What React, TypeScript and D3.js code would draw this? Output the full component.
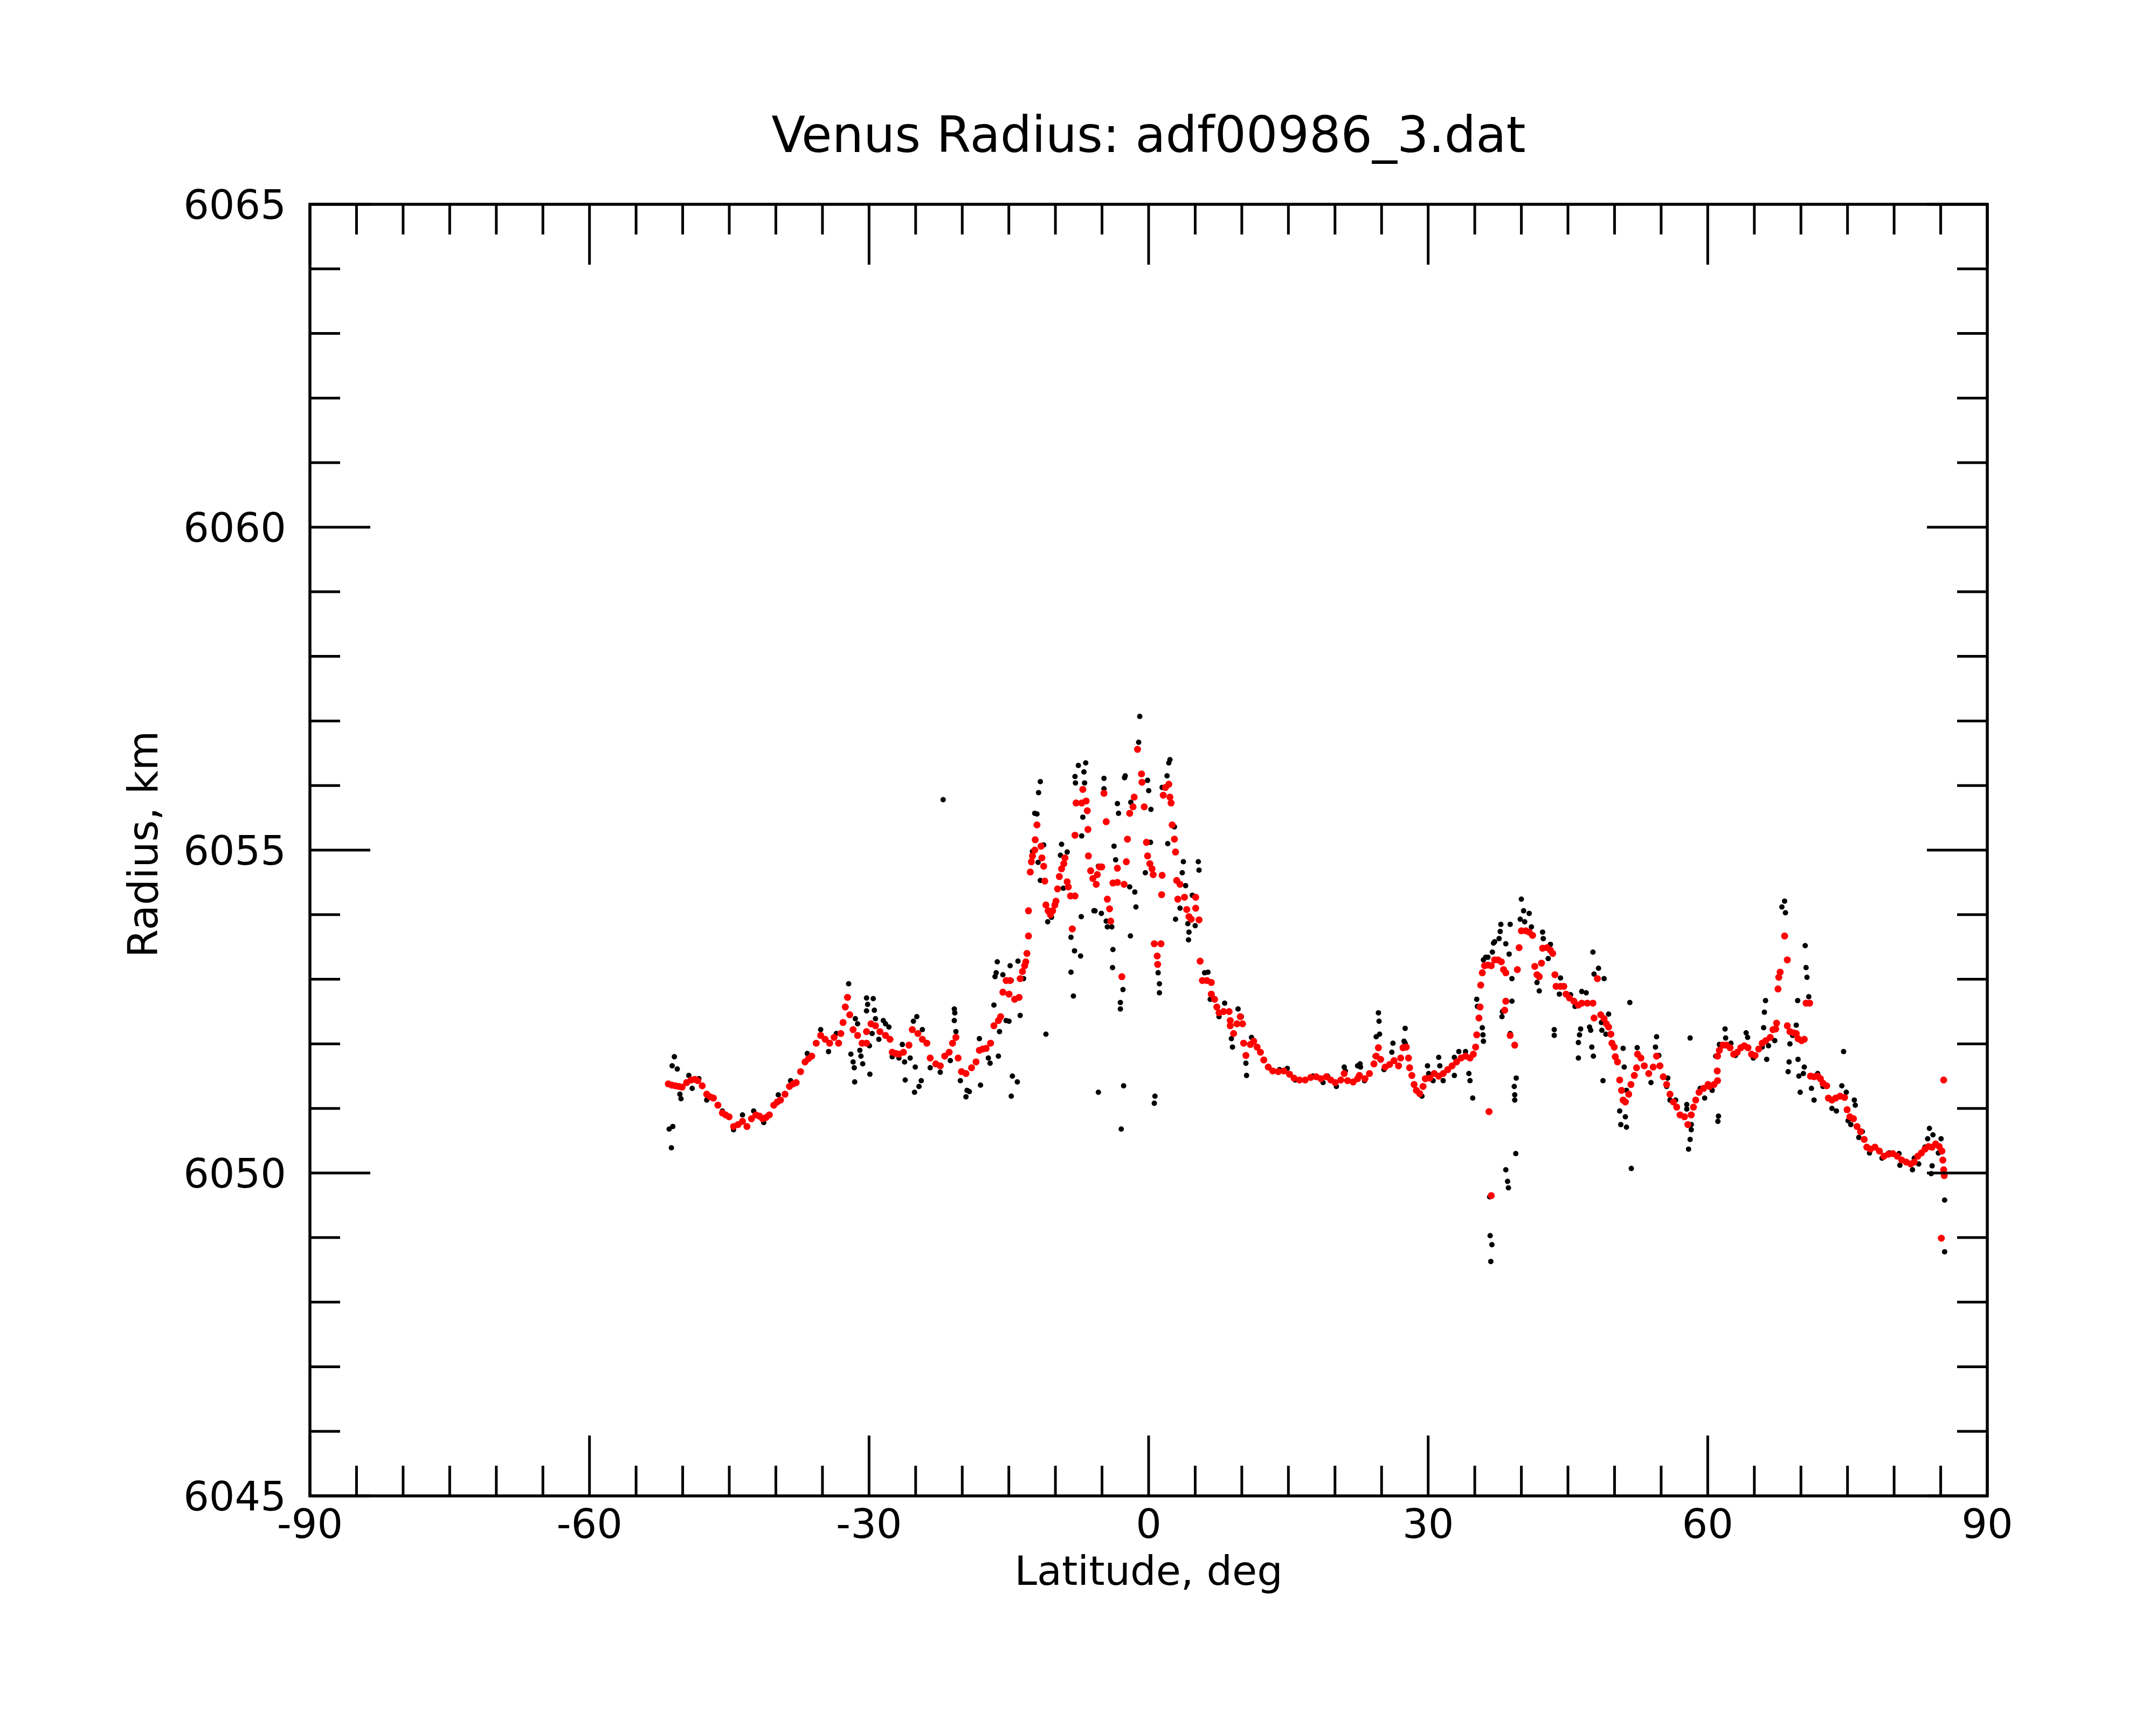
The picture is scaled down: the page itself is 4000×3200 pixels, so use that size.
import React from "react";
import * as d3 from "d3";

const W = 4000;
const H = 3200;
const TITLE = "Venus Radius: adf00986_3.dat";
const X_LABEL = "Latitude, deg";
const Y_LABEL = "Radius, km";

const xDomain: [number, number] = [-90, 90];
const yDomain: [number, number] = [6045, 6065];
const xMajorTicks = [-90, -60, -30, 0, 30, 60, 90];
const xMinorTicks = [-85, -80, -75, -70, -65, -55, -50, -45, -40, -35, -25, -20, -15, -10, -5, 5, 10, 15, 20, 25, 35, 40, 45, 50, 55, 65, 70, 75, 80, 85];
const yMajorTicks = [6045, 6050, 6055, 6060, 6065];
const yMinorTicks = [6046, 6047, 6048, 6049, 6051, 6052, 6053, 6054, 6056, 6057, 6058, 6059, 6061, 6062, 6063, 6064];

type P = [number, number];

// raw radius samples (black), south part
const blackSouth: P[] = [
  [-51.45, 6050.68], [-51.06, 6050.72], [-51.21, 6050.39], [-50.89, 6051.80], [-51.13, 6051.66], [-50.58, 6051.61],
  [-50.30, 6051.22], [-50.18, 6051.15], [-49.34, 6051.51], [-48.98, 6051.31], [-48.26, 6051.46], [-47.42, 6051.13],
  [-45.74, 6050.96], [-44.54, 6050.67], [-43.58, 6050.90], [-42.38, 6050.96], [-41.30, 6050.78], [-39.74, 6051.21],
  [-38.42, 6051.43], [-36.63, 6051.85], [-35.19, 6052.22], [-34.35, 6051.88], [-33.51, 6052.16], [-32.19, 6052.93],
  [-31.95, 6051.84], [-31.71, 6051.72], [-31.59, 6051.63], [-31.54, 6051.41], [-31.47, 6052.39], [-31.23, 6052.31],
  [-30.99, 6051.90], [-30.87, 6051.81], [-30.68, 6051.69], [-30.27, 6052.71], [-30.15, 6052.61], [-30.27, 6052.51],
  [-29.55, 6052.70], [-29.43, 6052.52], [-29.96, 6051.97], [-29.91, 6051.53], [-29.67, 6052.16], [-29.31, 6052.39],
  [-28.95, 6052.07], [-28.47, 6052.36], [-28.23, 6052.31], [-27.87, 6052.26], [-27.51, 6051.80], [-26.79, 6051.78],
  [-26.43, 6051.99], [-26.19, 6051.72], [-26.12, 6051.44], [-25.59, 6051.78], [-25.12, 6051.25], [-25.04, 6051.64],
  [-25.24, 6052.35], [-24.88, 6052.42], [-24.64, 6051.34], [-24.40, 6051.43], [-24.28, 6052.22], [-23.44, 6051.63],
  [-22.36, 6051.56], [-21.28, 6051.74], [-20.85, 6052.54], [-20.80, 6052.48], [-20.85, 6052.36], [-20.68, 6052.19],
  [-20.20, 6051.43], [-19.48, 6051.28], [-19.60, 6051.18], [-19.24, 6051.26], [-18.16, 6052.08], [-18.04, 6051.36],
  [-17.20, 6051.78], [-17.01, 6051.70], [-16.60, 6052.60], [-16.36, 6053.10], [-16.24, 6053.27], [-16.48, 6053.04],
  [-16.12, 6051.81], [-16.00, 6052.19], [-15.64, 6053.07], [-15.29, 6052.36], [-22.05, 6055.78],
];

// raw radius samples (black), equatorial part
const blackEquator: P[] = [
  [-14.86, 6053.21], [-14.02, 6053.28], [-14.74, 6052.98], [-14.98, 6052.35], [-13.78, 6052.44], [-14.62, 6051.50],
  [-14.09, 6051.41], [-14.74, 6051.19], [-13.42, 6053.01], [-12.22, 6055.57], [-11.98, 6055.56], [-11.81, 6055.89],
  [-11.62, 6056.06], [-12.46, 6054.98], [-11.86, 6054.81], [-11.62, 6054.53], [-11.26, 6055.08], [-11.02, 6052.15],
  [-10.83, 6053.89], [-10.42, 6053.96], [-9.34, 6055.09], [-9.46, 6054.92], [-8.74, 6054.97], [-9.15, 6054.41],
  [-8.33, 6053.65], [-8.33, 6053.11], [-8.07, 6052.74], [-7.95, 6053.44], [-7.30, 6053.36], [-7.90, 6056.14],
  [-7.85, 6056.04], [-7.54, 6056.31], [-6.94, 6056.21], [-6.75, 6056.35], [-6.87, 6056.04], [-7.06, 6055.51],
  [-7.18, 6055.22], [-7.23, 6053.97], [-5.87, 6054.06], [-5.75, 6054.06], [-5.07, 6054.02], [-5.39, 6054.75],
  [-5.39, 6051.25], [-4.79, 6056.11], [-4.79, 6055.95], [-4.55, 6053.90], [-4.43, 6053.81], [-3.95, 6053.81],
  [-3.83, 6053.46], [-3.87, 6053.18], [-3.71, 6055.06], [-3.54, 6054.85], [-3.35, 6055.72], [-3.23, 6055.57],
  [-3.03, 6052.64], [-3.03, 6052.54], [-2.75, 6052.84], [-2.68, 6051.35], [-2.94, 6050.68], [-2.03, 6054.43],
  [-1.95, 6053.67], [-2.51, 6056.15], [-2.58, 6056.12], [-1.91, 6055.74], [-1.48, 6054.35], [-1.36, 6054.12],
  [-1.07, 6056.67], [-0.95, 6057.07], [-0.11, 6056.08], [0.01, 6055.92], [-0.28, 6055.12], [-0.35, 6054.65],
  [0.20, 6055.12], [0.25, 6055.63], [0.68, 6051.19], [0.61, 6051.08], [1.02, 6053.10], [1.16, 6052.93],
  [1.16, 6052.79], [1.40, 6054.61], [1.45, 6055.97], [1.98, 6056.15], [2.17, 6056.35], [2.29, 6056.40],
  [2.41, 6055.73], [2.77, 6055.36], [2.05, 6055.10], [2.89, 6053.93], [3.37, 6054.10], [3.61, 6054.65],
  [3.73, 6054.82], [3.97, 6054.45], [4.21, 6053.86], [4.33, 6053.73], [4.28, 6053.61], [4.69, 6054.30],
  [5.00, 6053.83], [5.33, 6054.82], [5.41, 6054.69], [6.01, 6053.10], [6.37, 6053.11], [6.61, 6052.69],
  [6.85, 6052.72], [7.56, 6052.42], [8.16, 6052.63], [8.88, 6052.08], [9.00, 6051.95], [9.60, 6052.54],
  [9.96, 6052.42], [10.44, 6051.70], [10.51, 6051.51], [11.04, 6052.10], [14.04, 6051.60], [14.88, 6051.62],
  [15.72, 6051.44], [17.64, 6051.50], [18.72, 6051.40], [19.20, 6051.50], [20.15, 6051.34], [20.99, 6051.64],
  [21.11, 6051.58], [22.43, 6051.66],
];

// raw radius samples (black), northern mid latitudes
const blackNorth: P[] = [
  [22.69, 6051.69], [22.74, 6051.64], [23.17, 6051.43], [24.66, 6052.48], [24.73, 6052.35], [24.78, 6052.15],
  [24.42, 6052.11], [24.30, 6051.81], [25.26, 6051.60], [26.10, 6051.87], [26.22, 6052.01], [27.53, 6052.24],
  [27.41, 6052.04], [27.53, 6052.01], [29.33, 6051.19], [29.93, 6051.66], [30.05, 6051.54], [30.53, 6051.43],
  [31.13, 6051.79], [31.25, 6051.66], [31.61, 6051.43], [32.81, 6051.79], [32.81, 6051.51], [33.29, 6051.88],
  [34.01, 6051.88], [34.37, 6051.54], [34.49, 6051.43], [34.78, 6051.16], [35.21, 6052.69], [35.28, 6052.58],
  [35.81, 6052.25], [35.88, 6052.14], [35.93, 6052.04], [35.93, 6053.30], [36.17, 6053.34], [36.41, 6053.34],
  [36.89, 6053.42], [37.01, 6053.56], [37.13, 6053.58], [37.61, 6053.63], [37.73, 6053.74], [37.80, 6053.85],
  [38.33, 6053.55], [38.80, 6053.85], [38.69, 6053.39], [37.97, 6052.50], [37.92, 6052.42], [38.99, 6053.01],
  [38.99, 6052.66], [38.80, 6052.16], [36.65, 6049.03], [36.84, 6048.89], [36.72, 6048.63], [36.60, 6049.63],
  [38.33, 6050.05], [38.52, 6049.87], [38.61, 6049.77], [39.40, 6050.30], [39.45, 6051.47], [39.24, 6051.34],
  [39.29, 6051.21], [39.29, 6051.13], [40.00, 6054.24], [40.24, 6054.06], [40.84, 6054.02], [39.88, 6053.93],
  [40.36, 6053.89], [41.08, 6053.81], [41.68, 6052.95], [41.92, 6052.82], [42.28, 6053.73], [42.35, 6053.63],
  [42.88, 6053.32], [43.12, 6053.54], [43.53, 6052.22], [43.53, 6052.13], [44.20, 6053.02], [44.08, 6052.77],
  [45.28, 6052.76], [45.76, 6052.58], [46.48, 6052.81], [46.96, 6052.79], [46.36, 6052.23], [46.24, 6052.14],
  [46.12, 6052.02], [46.12, 6051.78], [47.32, 6052.26], [47.44, 6052.21], [47.56, 6051.95], [47.73, 6051.81],
  [47.68, 6053.42], [47.80, 6053.08], [48.28, 6053.17], [48.88, 6053.01], [48.76, 6051.43], [48.59, 6052.33],
  [49.36, 6052.46], [48.64, 6052.21], [49.07, 6052.15], [51.64, 6052.64], [50.92, 6051.93], [51.04, 6051.64],
  [50.55, 6050.96], [50.67, 6050.75], [51.16, 6050.87], [51.28, 6050.71], [51.28, 6051.28], [51.80, 6050.07],
  [52.43, 6051.94], [53.91, 6051.40], [54.51, 6052.11], [54.39, 6051.95], [54.75, 6051.82], [55.71, 6051.47],
  [55.59, 6051.34], [55.95, 6051.13], [56.55, 6051.13], [57.75, 6051.06], [57.75, 6050.99], [58.23, 6050.75],
  [58.23, 6050.67], [58.11, 6050.52], [57.94, 6050.37], [58.11, 6052.09], [59.19, 6051.31], [59.67, 6051.16],
];

// raw radius samples (black), high northern latitudes
const blackPolar: P[] = [
  [60.48, 6051.28], [61.15, 6050.88], [61.09, 6050.80], [60.86, 6051.81], [61.25, 6051.99], [61.86, 6052.23],
  [61.92, 6052.09], [62.49, 6052.01], [62.97, 6051.82], [64.12, 6052.17], [64.28, 6052.10], [64.89, 6051.78],
  [65.85, 6051.95], [66.00, 6052.25], [66.08, 6052.49], [66.20, 6052.67], [66.33, 6051.76], [66.52, 6051.97],
  [67.19, 6052.05], [67.96, 6054.12], [68.25, 6054.21], [68.34, 6054.03], [68.82, 6052.00], [68.73, 6051.72],
  [68.63, 6051.57], [69.11, 6052.13], [69.50, 6052.29], [69.65, 6052.67], [69.69, 6051.76], [69.78, 6051.50],
  [69.92, 6051.25], [70.26, 6051.54], [70.36, 6051.64], [70.46, 6053.52], [70.55, 6053.18], [70.65, 6053.03],
  [70.84, 6052.73], [71.13, 6051.31], [71.41, 6051.13], [71.80, 6051.54], [72.37, 6051.34], [73.33, 6051.00],
  [73.81, 6050.96], [74.39, 6051.35], [74.58, 6051.88], [74.87, 6051.25], [75.06, 6050.81], [75.35, 6050.75],
  [75.73, 6051.13], [75.83, 6051.05], [76.21, 6050.55], [76.59, 6050.64], [77.36, 6050.31], [78.70, 6050.23],
  [79.47, 6050.31], [80.53, 6050.30], [80.62, 6050.12], [81.97, 6050.05], [82.16, 6050.23], [82.64, 6050.14],
  [83.31, 6050.40], [83.60, 6050.53], [83.79, 6050.69], [84.17, 6050.59], [84.08, 6050.11], [83.98, 6049.99],
  [85.04, 6050.53], [84.75, 6050.31], [85.42, 6049.58], [85.42, 6048.78],
];

// smoothed radius (red)
const redSouth: P[] = [
  [-51.54, 6051.38], [-51.15, 6051.36], [-50.77, 6051.35], [-50.40, 6051.34], [-50.06, 6051.33], [-49.58, 6051.40],
  [-49.10, 6051.44], [-48.70, 6051.45], [-48.38, 6051.43], [-47.90, 6051.35], [-47.42, 6051.22], [-47.05, 6051.18],
  [-46.70, 6051.16], [-46.22, 6051.05], [-45.74, 6050.93], [-45.40, 6050.90], [-45.02, 6050.87], [-44.54, 6050.72],
  [-44.06, 6050.75], [-43.58, 6050.80], [-43.10, 6050.72], [-42.62, 6050.84], [-42.14, 6050.90], [-41.75, 6050.88],
  [-41.42, 6050.84], [-41.05, 6050.86], [-40.70, 6050.90], [-40.22, 6051.05], [-39.85, 6051.10], [-39.50, 6051.13],
  [-39.02, 6051.22], [-38.54, 6051.34], [-38.15, 6051.38], [-37.82, 6051.40], [-37.35, 6051.57], [-36.87, 6051.72],
  [-36.50, 6051.77], [-36.15, 6051.81], [-35.67, 6052.01], [-35.19, 6052.13], [-34.71, 6052.07], [-34.23, 6052.01],
  [-33.75, 6052.10], [-33.27, 6052.01], [-33.03, 6052.16], [-32.79, 6052.33], [-32.55, 6052.57], [-32.31, 6052.72],
  [-32.07, 6052.45], [-31.71, 6052.22], [-31.23, 6052.13], [-30.75, 6052.01], [-30.27, 6052.01], [-30.27, 6052.19],
  [-29.79, 6052.31], [-29.31, 6052.28], [-28.83, 6052.19], [-28.23, 6052.13], [-27.75, 6052.07], [-27.51, 6051.87],
  [-27.15, 6051.85], [-26.79, 6051.84], [-26.31, 6051.87], [-25.72, 6051.98], [-25.36, 6052.22], [-24.76, 6052.16],
  [-24.28, 6052.07], [-23.80, 6052.01], [-23.44, 6051.78], [-22.84, 6051.69], [-22.36, 6051.66], [-21.88, 6051.81],
  [-21.40, 6051.87], [-21.04, 6052.01], [-20.68, 6052.10], [-20.44, 6051.78], [-20.08, 6051.57], [-19.60, 6051.54],
  [-19.00, 6051.63], [-18.52, 6051.72], [-18.16, 6051.90], [-17.80, 6051.92], [-17.44, 6051.93], [-16.96, 6052.01],
  [-16.60, 6052.28], [-16.12, 6052.36], [-15.88, 6052.42], [-15.64, 6052.80], [-15.29, 6052.98],
];

const redEquator: P[] = [
  [-14.98, 6052.77], [-14.38, 6052.69], [-13.90, 6052.72], [-14.86, 6052.98], [-13.78, 6053.01], [-13.54, 6053.12],
  [-13.30, 6053.21], [-13.18, 6053.27], [-13.06, 6053.40], [-12.89, 6053.67], [-12.89, 6054.06], [-12.70, 6054.66],
  [-12.58, 6054.82], [-12.46, 6054.91], [-12.22, 6055.00], [-12.17, 6055.16], [-11.98, 6055.39], [-11.55, 6055.06],
  [-11.45, 6054.88], [-11.26, 6054.75], [-11.14, 6054.52], [-11.02, 6054.15], [-10.78, 6054.06], [-10.54, 6054.00],
  [-10.30, 6054.06], [-10.06, 6054.15], [-9.94, 6054.21], [-9.77, 6054.40], [-9.58, 6054.59], [-9.34, 6054.71],
  [-9.10, 6054.79], [-8.98, 6054.88], [-8.74, 6054.51], [-8.62, 6054.43], [-8.38, 6054.29], [-7.90, 6054.29],
  [-8.19, 6053.78], [-7.90, 6055.23], [-7.78, 6055.73], [-7.18, 6055.73], [-6.70, 6055.76], [-7.06, 6055.94],
  [-6.58, 6055.61], [-6.51, 6055.32], [-6.46, 6054.91], [-6.22, 6054.68], [-5.98, 6054.56], [-5.62, 6054.47],
  [-5.50, 6054.62], [-5.26, 6054.74], [-5.03, 6054.74], [-4.79, 6055.88], [-4.55, 6055.44], [-4.43, 6054.24],
  [-4.19, 6054.09], [-4.07, 6053.90], [-3.83, 6054.49], [-3.35, 6054.50], [-3.35, 6054.72], [-2.87, 6053.04],
  [-2.63, 6054.47], [-2.39, 6054.82], [-2.27, 6055.17], [-2.03, 6055.57], [-1.67, 6055.67], [-1.55, 6055.82],
  [-1.19, 6056.56], [-0.76, 6056.18], [-0.71, 6056.05], [-0.47, 6055.67], [-0.23, 6055.12], [-0.11, 6054.91],
  [0.13, 6054.79], [0.37, 6054.71], [0.49, 6054.62], [0.61, 6053.55], [0.92, 6053.36], [0.97, 6053.23],
  [1.33, 6053.55], [1.40, 6054.31], [1.45, 6054.61], [1.57, 6055.85], [1.81, 6055.97], [2.17, 6056.02],
  [2.29, 6055.82], [2.41, 6055.73], [2.53, 6055.39], [2.77, 6055.17], [2.89, 6054.97], [3.01, 6054.53],
  [3.37, 6054.47], [3.13, 6054.24], [3.85, 6054.27], [4.09, 6054.08], [4.33, 6053.97], [4.57, 6053.93],
  [5.05, 6054.27], [5.05, 6054.10], [5.41, 6053.92], [5.53, 6053.28], [5.77, 6052.98], [6.25, 6052.98],
  [6.73, 6052.95], [6.73, 6052.77], [7.08, 6052.69], [7.32, 6052.57], [7.56, 6052.48], [8.04, 6052.50],
  [8.64, 6052.50], [8.76, 6052.36], [8.76, 6052.28], [9.12, 6052.16], [9.48, 6052.31], [9.84, 6052.42],
  [10.08, 6052.31], [10.20, 6052.01], [10.44, 6051.82], [10.92, 6051.99], [11.28, 6052.04], [11.64, 6051.95],
  [12.00, 6051.87], [12.36, 6051.75], [12.84, 6051.64], [13.32, 6051.58], [13.92, 6051.57], [14.52, 6051.58],
  [15.12, 6051.53], [15.60, 6051.47], [16.20, 6051.44], [16.80, 6051.44], [17.40, 6051.48], [17.99, 6051.49],
  [18.48, 6051.46], [19.07, 6051.49], [19.55, 6051.44], [20.03, 6051.40], [20.63, 6051.44], [20.99, 6051.54],
  [21.35, 6051.43], [21.95, 6051.41], [22.43, 6051.46],
];

const redNorth: P[] = [
  [22.62, 6051.51], [23.22, 6051.46], [23.70, 6051.54], [24.18, 6051.69], [24.42, 6051.81], [24.66, 6051.94],
  [24.90, 6051.76], [25.38, 6051.64], [25.86, 6051.68], [26.34, 6051.74], [26.82, 6051.66], [27.05, 6051.78],
  [27.30, 6051.94], [27.65, 6051.95], [27.89, 6051.78], [28.01, 6051.63], [28.25, 6051.51], [28.49, 6051.37],
  [28.73, 6051.28], [29.09, 6051.23], [29.45, 6051.34], [29.69, 6051.46], [30.17, 6051.47], [30.65, 6051.54],
  [31.13, 6051.50], [31.61, 6051.54], [32.09, 6051.60], [32.57, 6051.66], [33.05, 6051.72], [33.53, 6051.78],
  [34.01, 6051.81], [34.49, 6051.78], [34.85, 6051.84], [35.09, 6051.95], [35.21, 6052.14], [35.45, 6052.40],
  [35.57, 6052.57], [35.64, 6052.91], [35.81, 6053.10], [36.05, 6053.21], [36.41, 6053.22], [36.77, 6053.21],
  [37.13, 6053.30], [37.49, 6053.30], [37.85, 6053.27], [38.09, 6053.15], [38.33, 6053.10], [36.53, 6050.95],
  [36.77, 6049.65], [38.33, 6052.66], [38.21, 6052.52], [38.80, 6052.13], [39.29, 6051.98], [39.57, 6053.15],
  [39.76, 6053.49], [40.00, 6053.75], [40.48, 6053.75], [40.84, 6053.73], [41.20, 6053.68], [41.44, 6053.20],
  [41.68, 6053.07], [41.92, 6053.04], [42.16, 6053.25], [42.28, 6053.48], [42.76, 6053.49], [43.12, 6053.45],
  [43.36, 6053.40], [43.60, 6053.07], [43.72, 6052.89], [44.20, 6052.89], [44.56, 6052.89], [44.80, 6052.77],
  [45.16, 6052.71], [45.64, 6052.66], [46.12, 6052.60], [46.48, 6052.63], [47.08, 6052.63], [47.68, 6052.63],
  [47.80, 6052.40], [48.16, 6053.01], [48.52, 6052.45], [48.88, 6052.39], [49.12, 6052.31], [49.36, 6052.26],
  [49.60, 6052.15], [49.72, 6052.01], [49.96, 6051.95], [50.08, 6051.80], [50.32, 6051.72], [50.55, 6051.44],
  [50.75, 6051.28], [50.92, 6051.13], [51.16, 6051.10], [51.52, 6051.22], [51.76, 6051.37], [52.12, 6051.51],
  [52.36, 6051.63], [52.47, 6051.84], [52.83, 6051.78], [53.19, 6051.66], [53.67, 6051.54], [54.15, 6051.64],
  [54.51, 6051.81], [54.87, 6051.66], [55.23, 6051.49], [55.59, 6051.37], [55.95, 6051.22], [56.31, 6051.10],
  [56.67, 6051.02], [57.03, 6050.90], [57.51, 6050.87], [57.87, 6050.75], [58.23, 6050.90], [58.47, 6051.02],
  [58.71, 6051.13], [59.07, 6051.25], [59.55, 6051.31], [60.03, 6051.37],
];

const redPolar: P[] = [
  [60.19, 6051.34], [60.67, 6051.37], [61.05, 6051.43], [61.02, 6051.58], [61.05, 6051.81], [61.25, 6051.90],
  [61.63, 6051.98], [62.01, 6051.98], [62.40, 6051.94], [62.78, 6051.84], [63.17, 6051.87], [63.55, 6051.94],
  [63.93, 6051.97], [64.32, 6051.94], [64.70, 6051.84], [65.08, 6051.82], [65.47, 6051.92], [65.85, 6052.01],
  [66.23, 6052.05], [66.71, 6052.10], [67.00, 6052.22], [67.29, 6052.23], [67.39, 6052.32], [67.54, 6052.85],
  [67.62, 6053.03], [67.77, 6053.11], [68.25, 6053.67], [68.54, 6053.30], [68.54, 6052.28], [68.82, 6052.19],
  [69.21, 6052.17], [69.50, 6052.16], [69.69, 6052.08], [70.07, 6052.05], [70.36, 6052.07], [70.55, 6052.63],
  [70.94, 6052.63], [71.03, 6051.50], [71.41, 6051.49], [71.80, 6051.50], [72.09, 6051.46], [72.37, 6051.39],
  [72.76, 6051.35], [72.95, 6051.16], [73.33, 6051.13], [73.72, 6051.16], [74.20, 6051.19], [74.68, 6051.17],
  [74.96, 6050.98], [75.25, 6050.87], [75.64, 6050.84], [76.02, 6050.72], [76.40, 6050.64], [76.79, 6050.52],
  [77.07, 6050.40], [77.46, 6050.37], [77.94, 6050.40], [78.42, 6050.34], [78.90, 6050.26], [79.38, 6050.29],
  [79.86, 6050.30], [80.34, 6050.26], [80.82, 6050.20], [81.30, 6050.17], [81.78, 6050.14], [82.16, 6050.17],
  [82.54, 6050.26], [82.93, 6050.31], [83.31, 6050.37], [83.69, 6050.41], [84.08, 6050.40], [84.46, 6050.45],
  [84.84, 6050.41], [85.13, 6050.34], [85.23, 6050.20], [85.32, 6050.05], [85.38, 6049.96], [85.32, 6051.44],
  [85.07, 6048.99],
];

const blackSeries = [blackSouth, blackEquator, blackNorth, blackPolar];
const redSeries = [redSouth, redEquator, redNorth, redPolar];

const PLOT = { left: 575, right: 3687, top: 379, bottom: 2775 };
const FONT = "'DejaVu Sans', Verdana, sans-serif";

export default function App() {
  const x = d3.scaleLinear().domain(xDomain).range([PLOT.left, PLOT.right]);
  const y = d3.scaleLinear().domain(yDomain).range([PLOT.bottom, PLOT.top]);
  const MAJ = 112;
  const MIN = 56;
  const tickW = 5;

  return (
    <svg
      width={W}
      height={H}
      viewBox={`0 0 ${W} ${H}`}
      style={{ position: "absolute", left: 0, top: 0, background: "#fff" }}
      xmlns="http://www.w3.org/2000/svg"
    >
      <rect x={0} y={0} width={W} height={H} fill="#fff" />
      <text x={(PLOT.left + PLOT.right) / 2} y={282} fontFamily={FONT} fontSize={92} textAnchor="middle" fill="#000">
        {TITLE}
      </text>

      {/* data */}
      <g fill="#000">
        {blackSeries.flat().map((d, i) => (
          <circle key={"b" + i} cx={x(d[0])} cy={y(d[1])} r={5} />
        ))}
      </g>
      <g fill="#ff0000">
        {redSeries.flat().map((d, i) => (
          <circle key={"r" + i} cx={x(d[0])} cy={y(d[1])} r={6.5} />
        ))}
      </g>

      {/* ticks */}
      <g stroke="#000" strokeWidth={tickW}>
        {xMajorTicks.map((t) => (
          <g key={"xM" + t}>
            <line x1={x(t)} x2={x(t)} y1={PLOT.bottom} y2={PLOT.bottom - MAJ} />
            <line x1={x(t)} x2={x(t)} y1={PLOT.top} y2={PLOT.top + MAJ} />
          </g>
        ))}
        {xMinorTicks.map((t) => (
          <g key={"xm" + t}>
            <line x1={x(t)} x2={x(t)} y1={PLOT.bottom} y2={PLOT.bottom - MIN} />
            <line x1={x(t)} x2={x(t)} y1={PLOT.top} y2={PLOT.top + MIN} />
          </g>
        ))}
        {yMajorTicks.map((t) => (
          <g key={"yM" + t}>
            <line x1={PLOT.left} x2={PLOT.left + MAJ} y1={y(t)} y2={y(t)} />
            <line x1={PLOT.right} x2={PLOT.right - MAJ} y1={y(t)} y2={y(t)} />
          </g>
        ))}
        {yMinorTicks.map((t) => (
          <g key={"ym" + t}>
            <line x1={PLOT.left} x2={PLOT.left + MIN} y1={y(t)} y2={y(t)} />
            <line x1={PLOT.right} x2={PLOT.right - MIN} y1={y(t)} y2={y(t)} />
          </g>
        ))}
      </g>

      <rect
        x={PLOT.left}
        y={PLOT.top}
        width={PLOT.right - PLOT.left}
        height={PLOT.bottom - PLOT.top}
        fill="none"
        stroke="#000"
        strokeWidth={5.5}
      />

      {/* tick labels */}
      <g fontFamily={FONT} fontSize={75} fill="#000">
        {xMajorTicks.map((t) => (
          <text key={"xl" + t} x={x(t)} y={PLOT.bottom + 78} textAnchor="middle">
            {String(t)}
          </text>
        ))}
        {yMajorTicks.map((t) => (
          <text key={"yl" + t} x={PLOT.left - 44} y={y(t) + 27} textAnchor="end">
            {String(t)}
          </text>
        ))}
      </g>

      <text x={(PLOT.left + PLOT.right) / 2} y={2940} fontFamily={FONT} fontSize={75} textAnchor="middle" fill="#000">
        {X_LABEL}
      </text>
      <text
        transform={`translate(292, 1566) rotate(-90)`}
        fontFamily={FONT}
        fontSize={76}
        textAnchor="middle"
        fill="#000"
      >
        {Y_LABEL}
      </text>
    </svg>
  );
}
